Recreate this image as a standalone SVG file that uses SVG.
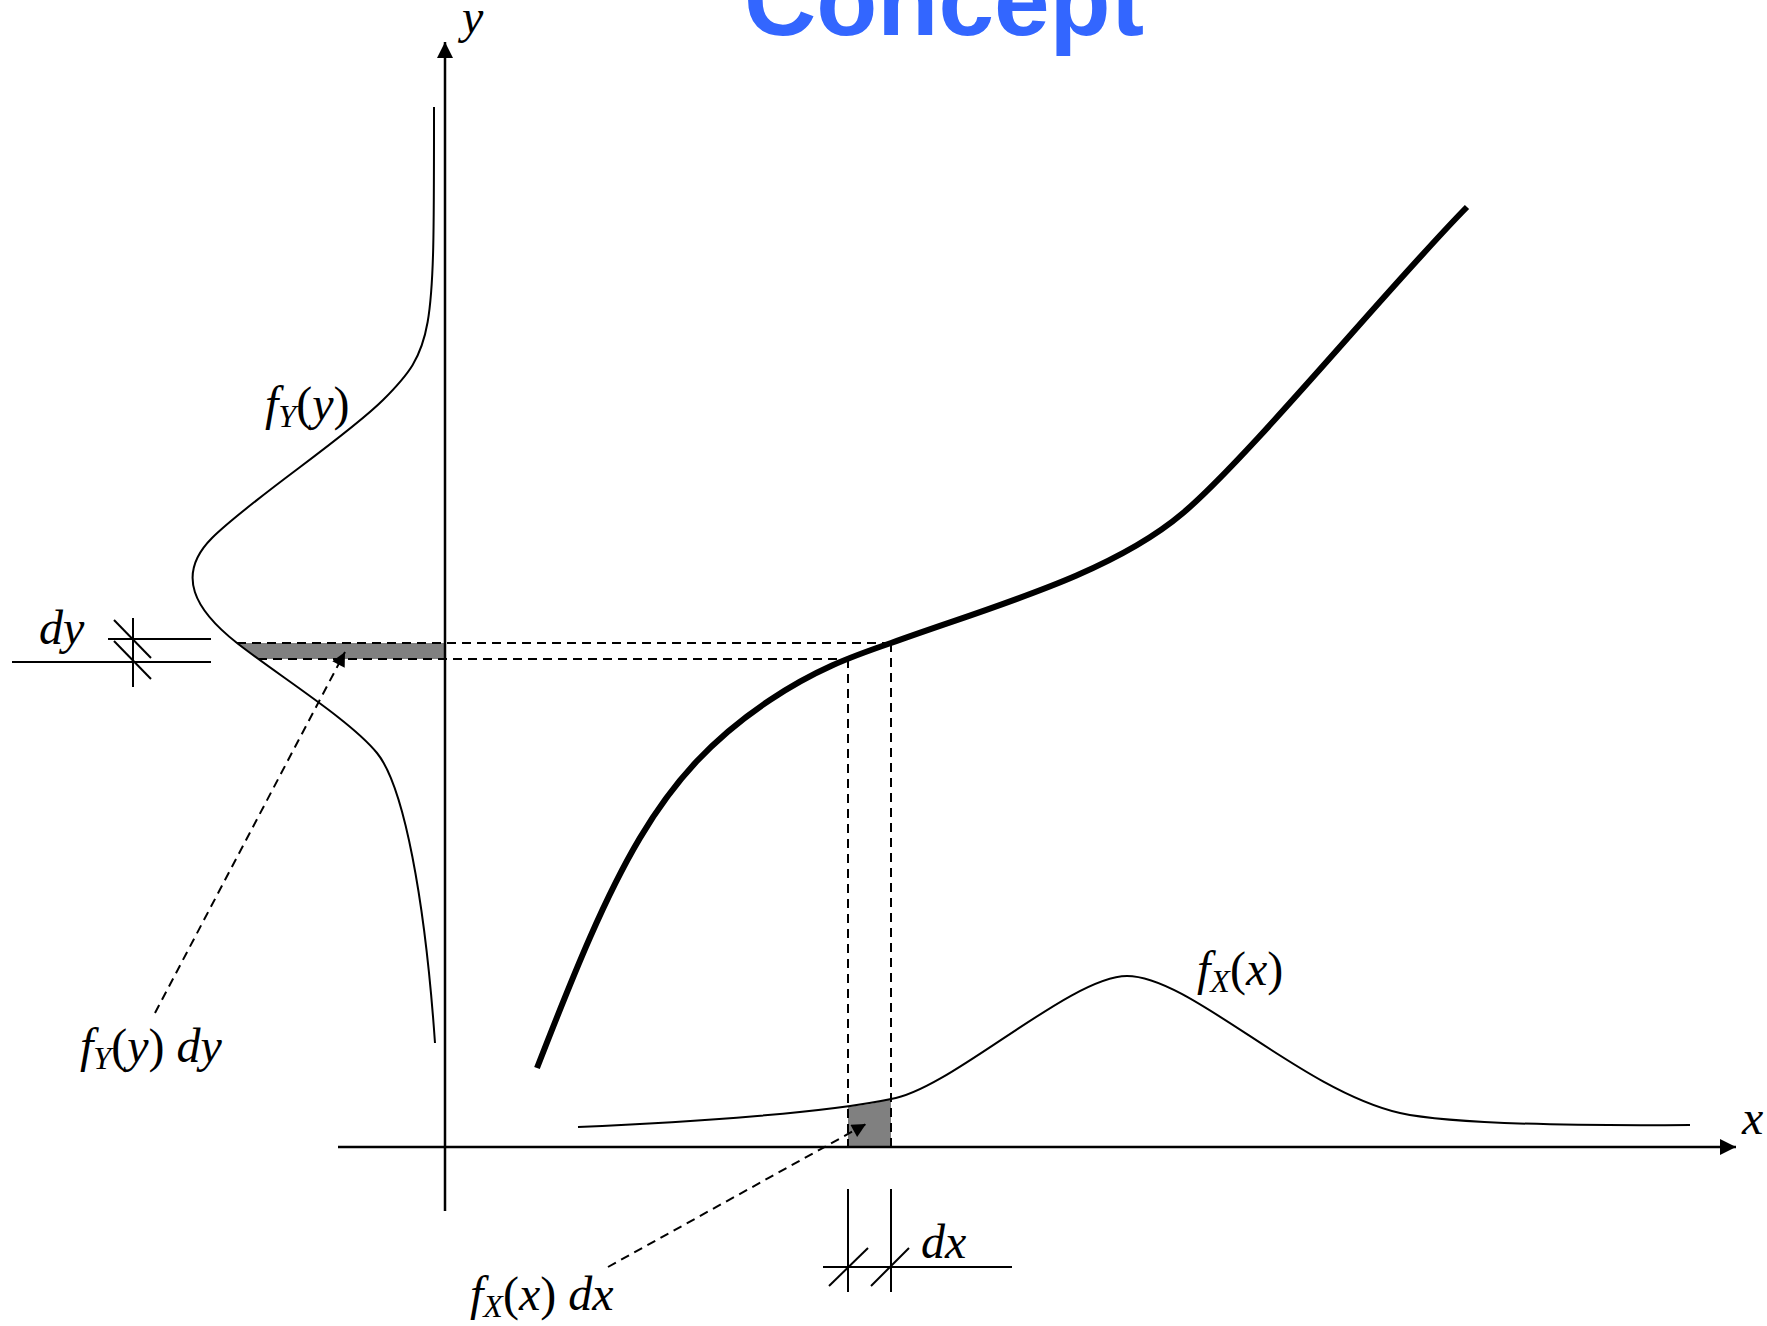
<svg xmlns="http://www.w3.org/2000/svg" width="1767" height="1326" viewBox="0 0 1767 1326">
<style>
.lbl{font-family:"Liberation Serif","Times New Roman",serif;font-style:italic;font-size:48px;fill:#000}
.sub{font-size:32px}
.up{font-style:normal}
.thin{fill:none;stroke:#000;stroke-width:2}
.axis{fill:none;stroke:#000;stroke-width:2.5}
.dash{fill:none;stroke:#000;stroke-width:2;stroke-dasharray:9,6}
.thick{fill:none;stroke:#000;stroke-width:6}
.shade{fill:#808080;stroke:none}
.title{font-family:"Liberation Sans",Arial,sans-serif;font-weight:bold;font-size:100px;fill:#3366FF}
</style>
<defs>
<marker id="axhead" viewBox="0 0 10 10" refX="10" refY="5" markerUnits="userSpaceOnUse" markerWidth="17" markerHeight="16" orient="auto">
<path d="M0,0 L10,5 L0,10 z" fill="#000"/>
</marker>
<marker id="ptr" viewBox="0 0 10 10" refX="10" refY="5" markerUnits="userSpaceOnUse" markerWidth="16" markerHeight="14" orient="auto">
<path d="M0,0 L10,5 L0,10 z" fill="#000"/>
</marker>
</defs>
<rect width="1767" height="1326" fill="#fff"/>

<g id="title">
<text class="title" x="744" y="35">Concept</text>
</g>

<g id="shading">
<path class="shade" d="M237,643 L445,643 L445,659 L258,659 L248,651 Z"/>
<path class="shade" d="M848,1107 L870,1104 L891,1099 L891,1147 L848,1147 Z"/>
</g>

<g id="axes">
<line class="axis" x1="445" y1="1211" x2="445" y2="42" marker-end="url(#axhead)"/>
<line class="axis" x1="338" y1="1147" x2="1736" y2="1147" marker-end="url(#axhead)"/>
<text class="lbl" x="462" y="33">y</text>
<text class="lbl" x="1742" y="1134">x</text>
</g>

<g id="curve-g">
<path class="thick" d="M537,1068 C614,870 657,775 770,700 C815,670 850,657 891,643 C990,607 1110,575 1183,513 C1250,456 1390,285 1467,207"/>
</g>

<g id="pdf-y">
<path class="thin" d="M434,107 C434,336 435,348 383,400 C345,438 250,500 212,538 C175,575 195,610 237,643 C279,676 350,720 377,753 C404,786 425,900 435,1043"/>
<text class="lbl" x="265" y="420">f<tspan class="sub" dy="7">Y</tspan><tspan class="up" dy="-7">(</tspan>y<tspan class="up">)</tspan></text>
</g>

<g id="pdf-x">
<path class="thin" d="M578,1127 C700,1122 830,1112 891,1099 C950,1090 1070,976 1127,976 C1190,976 1300,1090 1400,1113 C1450,1124 1560,1126 1690,1125"/>
<text class="lbl" x="1197" y="985">f<tspan class="sub" dy="7">X</tspan><tspan class="up" dy="-7">(</tspan>x<tspan class="up">)</tspan></text>
</g>

<g id="connectors">
<line class="dash" x1="237" y1="643" x2="891" y2="643"/>
<line class="dash" x1="258" y1="659" x2="848" y2="659"/>
<line class="dash" x1="891" y1="643" x2="891" y2="1147"/>
<line class="dash" x1="848" y1="659" x2="848" y2="1147"/>
<line class="dash" x1="155" y1="1013" x2="345" y2="652" marker-end="url(#ptr)"/>
<line class="dash" x1="608" y1="1267" x2="866" y2="1124" marker-end="url(#ptr)"/>
</g>

<g id="dy-dim">
<line class="thin" x1="108" y1="639" x2="211" y2="639"/>
<line class="thin" x1="12" y1="662" x2="211" y2="662"/>
<line class="thin" x1="133" y1="618" x2="133" y2="687"/>
<line class="thin" x1="114" y1="620" x2="151" y2="658"/>
<line class="thin" x1="114" y1="641" x2="151" y2="679"/>
<text class="lbl" x="39" y="644">dy</text>
</g>

<g id="dx-dim">
<line class="thin" x1="823" y1="1267" x2="1012" y2="1267"/>
<line class="thin" x1="848" y1="1189" x2="848" y2="1292"/>
<line class="thin" x1="891" y1="1189" x2="891" y2="1292"/>
<line class="thin" x1="829" y1="1286" x2="868" y2="1248"/>
<line class="thin" x1="871" y1="1286" x2="909" y2="1248"/>
<text class="lbl" x="921" y="1258">dx</text>
</g>

<g id="label-fydy">
<text class="lbl" x="80" y="1062">f<tspan class="sub" dy="7">Y</tspan><tspan class="up" dy="-7">(</tspan>y<tspan class="up">)</tspan> dy</text>
</g>

<g id="label-fxdx">
<text class="lbl" x="470" y="1310">f<tspan class="sub" dy="7">X</tspan><tspan class="up" dy="-7">(</tspan>x<tspan class="up">)</tspan> dx</text>
</g>
</svg>
